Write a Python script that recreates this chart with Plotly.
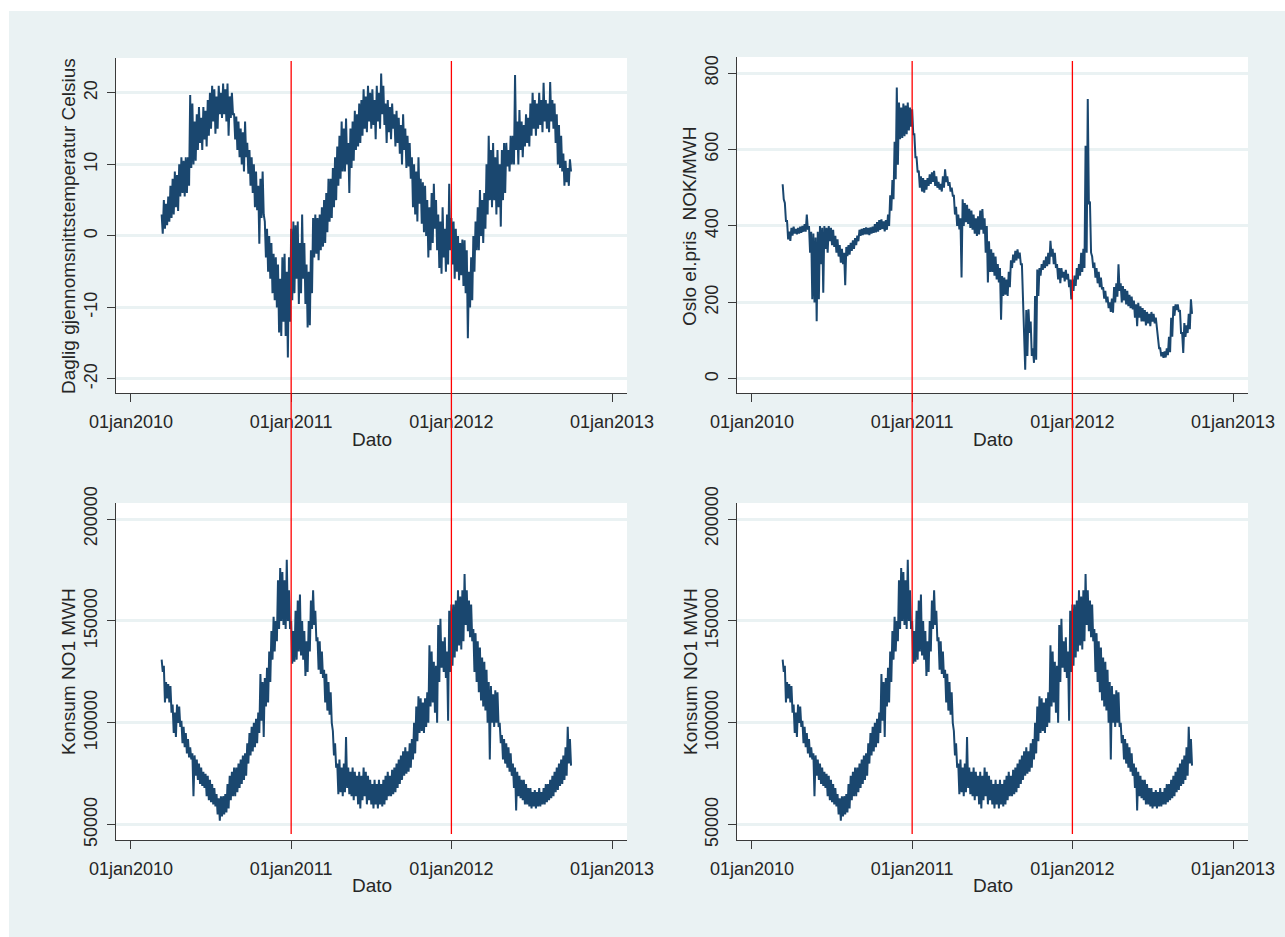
import plotly.graph_objects as go
import pandas as pd

# ---------------- data ----------------
# each 5-day window starting at START_DATE: highest and lowest value seen in it
START_DATE = "2010-03-12"
WINDOW = "5D"

temp_hoy = [
    3.0, 5.0, 4.5, 5.5, 7.0, 8.0, 9.0, 8.5, 10.0, 11.0,
    10.5, 11.0, 11.0, 19.7, 18.5, 16.0, 17.0, 18.0, 16.5, 18.0,
    17.5, 19.0, 20.0, 21.0, 20.5, 19.5, 21.0, 20.0, 21.3, 20.5,
    21.3, 19.5, 20.0, 17.0, 16.7, 16.0, 15.0, 14.5, 16.0, 13.0,
    12.0, 11.0, 10.0, 9.0, 7.0, 8.0, 9.0, 2.0, 1.0, 0.0,
    -1.0, -2.5, -3.0, -4.0, -6.0, -3.0, -2.5, -5.0, -3.0, 1.0,
    2.0, 1.5, 2.0, -1.0, 3.0, -1.0, -4.0, -5.0, -2.0, 2.5,
    3.0, 2.5, 3.0, 4.0, 5.0, 6.0, 8.0, 8.0, 9.5, 11.0,
    12.5, 14.0, 16.0, 15.0, 16.4, 13.0, 15.0, 16.0, 17.5, 17.0,
    18.5, 19.0, 20.5, 19.5, 21.0, 20.0, 20.5, 19.0, 21.0, 20.0,
    22.7, 21.0, 18.5, 19.0, 18.0, 18.5, 17.0, 17.5, 16.5, 15.5,
    17.0, 15.0, 14.0, 13.0, 11.0, 10.0, 9.0, 11.0, 8.0, 7.5,
    7.0, 5.0, 4.0, 6.0, 7.3, 5.0, 3.0, 2.0, 4.0, 1.0,
    3.0, 7.3, 2.5, 2.0, 1.0, 0.0, -1.0, -0.5, -0.6, -2.0,
    -5.0, -3.0, 0.0, 2.0, 4.0, 6.4, 5.0, 6.0, 10.0, 14.0,
    12.0, 13.0, 11.0, 12.0, 10.0, 12.0, 13.0, 13.0, 12.0, 14.0,
    14.0, 22.5, 16.0, 17.6, 16.0, 15.5, 17.0, 16.5, 18.5, 20.0,
    19.0, 18.5, 20.0, 19.0, 21.4, 19.0, 18.5, 21.5, 19.0, 18.5,
    17.0, 15.5, 14.0, 11.5, 10.5, 9.5, 10.7,
]
temp_lav = [
    0.3, 1.0, 1.5, 2.0, 2.5, 3.0, 4.0, 3.5, 5.5, 6.0,
    5.5, 6.0, 7.0, 9.5, 10.0, 10.5, 12.0, 13.0, 12.0, 13.5,
    12.5, 14.0, 15.0, 16.0, 14.3, 15.0, 17.0, 16.5, 17.0, 16.0,
    14.0, 16.5, 17.0, 13.5, 12.0, 11.0, 10.0, 9.0, 11.0, 8.7,
    7.0, 6.0, 4.0, 3.6, -1.1, 2.5, 3.0, -3.0, -5.0, -6.0,
    -8.0, -9.0, -10.0, -13.5, -14.0, -12.0, -14.0, -17.0, -12.0, -9.0,
    -8.0, -6.0, -9.5, -8.0, -6.0, -9.5, -12.8, -12.5, -8.0, -3.0,
    -2.5, -3.4, -2.0, -1.5, -1.0, 0.5, 2.0, 2.5, 4.0, 5.0,
    7.0, 8.0, 9.0, 9.0, 10.0, 6.0, 9.5, 10.5, 12.0, 12.5,
    13.0, 14.0, 15.0, 14.5, 16.0, 15.0, 15.5, 13.5, 16.0, 15.0,
    17.0, 15.5, 13.0, 14.5, 13.5, 15.0, 12.5, 13.0, 11.5, 10.0,
    12.0, 9.5, 9.7, 8.0, 4.0, 3.0, 2.0, 4.5, 1.7, 0.5,
    0.0, -3.0, -2.0, -1.0, 1.0, -2.0, -4.5, -5.3, -3.0, -5.0,
    -4.0, -2.0, -4.0, -6.0, -5.0, -6.2, -5.5, -7.0, -8.0, -14.3,
    -10.0, -9.0, -5.0, -2.0, -2.0, 0.0, -1.0, 1.0, 3.0, 5.0,
    4.0, 5.0, 3.0, 4.0, 1.3, 5.0, 6.0, 9.7, 9.0, 10.0,
    10.0, 12.0, 10.0, 12.0, 11.0, 12.5, 13.0, 12.5, 14.0, 15.0,
    14.0, 15.0, 15.5, 14.5, 16.0, 15.0, 14.5, 16.0, 15.0, 13.0,
    10.0, 9.5, 9.0, 7.0, 7.5, 7.0, 9.0,
]

pris_hoy = [
    509, 460, 413, 385, 395, 398, 392, 395, 398, 400,
    405, 430, 400, 385, 380, 370, 385, 400, 395, 400,
    395, 400, 395, 390, 374, 365, 350, 340, 330, 345,
    350, 356, 362, 368, 375, 390, 392, 394, 396, 395,
    396, 398, 405, 410, 415, 417, 412, 415, 430, 480,
    520, 620, 762, 723, 710, 720, 715, 723, 710, 705,
    640, 580, 545, 530, 525, 520, 525, 535, 540, 544,
    530, 515, 510, 530, 548, 530, 515, 500, 479, 450,
    430, 420, 470, 460, 455, 445, 440, 430, 420, 425,
    440, 444, 420, 400, 360, 339, 330, 320, 300, 290,
    269, 265, 260, 280, 310, 325, 335, 339, 330, 300,
    140, 180, 182, 150, 80, 217, 286, 290, 300, 310,
    320, 330, 361, 340, 330, 300, 290, 290, 280, 285,
    275, 260, 260, 270, 290, 300, 330, 340, 610, 732,
    461, 320, 304, 290, 280, 265, 240, 230, 215, 200,
    210, 240, 250, 300, 250, 243, 235, 230, 220, 215,
    205, 195, 199, 190, 185, 180, 175, 170, 175, 170,
    160, 120, 80, 70, 72, 80, 110, 160, 190, 195,
    195, 180, 120, 146, 140, 170, 208,
]
pris_lav = [
    470, 413, 365, 361, 375, 380, 378, 380, 382, 385,
    385, 390, 330, 208, 200, 151, 208, 300, 225, 340,
    330, 360, 350, 345, 330, 320, 304, 300, 245, 321,
    325, 335, 340, 350, 360, 374, 376, 378, 378, 376,
    380, 382, 383, 385, 390, 392, 386, 390, 400, 440,
    470, 522, 560, 627, 630, 635, 640, 650, 660, 640,
    580, 540, 500, 490, 487, 495, 505, 510, 515, 505,
    500, 495, 490, 500, 515, 505, 490, 479, 430, 400,
    391, 265, 400, 410, 405, 395, 390, 380, 374, 378,
    390, 380, 330, 252, 280, 280, 270, 260, 252, 155,
    217, 220, 217, 240, 290, 304, 310, 315, 300, 200,
    24, 60, 120, 60, 42, 50, 217, 270, 285, 290,
    295, 300, 320, 300, 290, 260, 250, 265, 255, 260,
    240, 208, 230, 243, 260, 270, 280, 290, 330, 460,
    330, 290, 265, 250, 240, 234, 210, 200, 185, 175,
    173, 200, 215, 230, 200, 205, 195, 190, 185, 182,
    160, 138, 160, 150, 150, 140, 145, 138, 150, 145,
    130, 80, 59, 55, 56, 62, 70, 110, 165, 180,
    175, 120, 68, 110, 120, 130, 170,
]

konsum_hoy_tusen = [
    131, 128, 120, 119, 118, 109, 105, 109, 108, 101,
    98, 95, 92, 88, 85, 84, 82, 80, 78, 76,
    75, 74, 72, 70, 68, 65, 63, 64, 64, 65,
    70, 74, 76, 78, 78, 80, 82, 84, 85, 90,
    95, 98, 100, 102, 105, 124, 120, 122, 127, 135,
    145, 152, 150, 170, 176, 174, 170, 180, 165, 150,
    145, 155, 160, 163, 150, 145, 140, 150, 160, 165,
    155, 142, 140, 135, 126, 124, 120, 115, 96, 90,
    80, 82, 78, 80, 93, 78, 76, 78, 76, 74,
    76, 74, 78, 76, 74, 72, 70, 72, 70, 72,
    70, 72, 74, 76, 74, 77, 78, 80, 82, 84,
    86, 88, 86, 90, 92, 100, 108, 113, 112, 110,
    112, 115, 138, 135, 130, 128, 148, 151, 140, 142,
    135, 155, 158, 158, 160, 165, 162, 165, 173, 165,
    160, 158, 146, 144, 140, 137, 132, 130, 126, 120,
    118, 114, 116, 115, 100, 94, 92, 90, 88, 85,
    80, 78, 76, 74, 72, 72, 70, 68, 68, 66,
    67, 66, 68, 66, 68, 70, 70, 72, 74, 76,
    78, 80, 82, 84, 88, 98, 92,
]
konsum_lav_tusen = [
    125, 110, 112, 110, 105, 95, 93, 100, 98, 90,
    88, 85, 83, 82, 64, 74, 72, 70, 69, 68,
    64, 62, 61, 60, 59, 55, 52, 54, 55, 56,
    58, 62, 64, 64, 66, 68, 70, 72, 74, 80,
    84, 86, 88, 90, 95, 101, 93, 108, 110, 120,
    131, 135, 140, 146, 150, 148, 146, 150, 146, 129,
    130, 131, 135, 133, 131, 123, 125, 135, 146, 148,
    140, 126, 124, 122, 110, 106, 104, 100, 84, 78,
    65, 66, 64, 66, 68, 65, 64, 62, 64, 60,
    58, 62, 64, 60, 62, 60, 58, 60, 58, 60,
    59, 60, 62, 64, 64, 65, 66, 68, 70, 72,
    74, 75, 76, 78, 82, 85, 91, 95, 96, 95,
    98, 100, 108, 110, 105, 100, 120, 127, 125, 122,
    101, 125, 128, 132, 135, 138, 136, 140, 148, 145,
    142, 140, 125, 120, 115, 111, 108, 106, 100, 82,
    100, 98, 100, 98, 90, 82, 80, 78, 76, 74,
    68, 57, 64, 63, 62, 60, 60, 59, 58, 59,
    58, 59, 59, 60, 60, 61, 62, 63, 64, 66,
    67, 69, 70, 72, 74, 80, 79,
]
konsum_hoy = [v * 1000 for v in konsum_hoy_tusen]
konsum_lav = [v * 1000 for v in konsum_lav_tusen]

x_tick_dates = ["2010-01-01", "2011-01-01", "2012-01-01", "2013-01-01"]
x_tick_text = ["01jan2010", "01jan2011", "01jan2012", "01jan2013"]
x_range = ["2009-11-28", "2013-02-04"]
marker_dates = ["2011-01-01", "2012-01-01"]

temp_ticks = [-20, -10, 0, 10, 20]
pris_ticks = [0, 200, 400, 600, 800]
konsum_ticks = [50000, 100000, 150000, 200000]

# window start dates; the low of each window is placed half a window later
dato_hoy = pd.date_range(START_DATE, periods=len(temp_hoy), freq=WINDOW)
dato_lav = dato_hoy + pd.Timedelta(hours=60)


def zigzag(hoy, lav):
    xs, ys = [], []
    for dh, dl, h, l in zip(dato_hoy, dato_lav, hoy, lav):
        xs += [dh, dl]
        ys += [h, l]
    return xs, ys


# ---------------- styling ----------------
W, H = 1285, 937
BG = "#eaf2f3"
NAVY = "#1a476f"
AXC = "#3a3a3a"
TXT = "#262626"
FONT = "Liberation Sans, Arial, sans-serif"


def fx(p):
    return p / W


def fy(p):
    return 1 - p / H


fig = go.Figure()

panels = [
    ("x", "y", temp_hoy, temp_lav, (116, 627), (58, 393), [-21.96, 24.87], temp_ticks),
    ("x2", "y2", pris_hoy, pris_lav, (737, 1248), (57, 393), [-37, 842], pris_ticks),
    ("x3", "y3", konsum_hoy, konsum_lav, (116, 627), (503, 840), [42500, 207860], konsum_ticks),
    ("x4", "y4", konsum_hoy, konsum_lav, (737, 1248), (503, 840), [42500, 207860], konsum_ticks),
]

layout = {}
for xa, ya, hoy, lav, (xl, xr), (yt, yb), yr, yt_vals in panels:
    xs, ys = zigzag(hoy, lav)
    fig.add_trace(go.Scatter(x=xs, y=ys, mode="lines", xaxis=xa, yaxis=ya,
                             line=dict(color=NAVY, width=2), showlegend=False,
                             hoverinfo="skip"))
    xkey = "xaxis" + xa[1:]
    ykey = "yaxis" + ya[1:]
    layout[xkey] = dict(
        type="date", range=x_range, domain=[fx(xl), fx(xr)], anchor=ya,
        automargin=False,
        showline=True, linecolor=AXC, linewidth=1.4, mirror=False,
        ticks="outside", ticklen=8, tickwidth=1.3, tickcolor=AXC,
        tickvals=x_tick_dates, ticktext=x_tick_text,
        showgrid=False, zeroline=False,
        tickfont=dict(family=FONT, size=18, color=TXT),
        ticklabelstandoff=4,
    )
    layout[ykey] = dict(
        range=yr, domain=[fy(yb), fy(yt)], anchor=xa,
        automargin=False,
        showline=True, linecolor=AXC, linewidth=1.4,
        ticks="outside", ticklen=8, tickwidth=1.3, tickcolor=AXC,
        tickvals=yt_vals, ticktext=[str(v) for v in yt_vals], tickangle=-90,
        showgrid=True, gridcolor=BG, gridwidth=2.5, zeroline=False,
        tickfont=dict(family=FONT, size=18, color=TXT),
        ticklabelstandoff=3,
    )

fig.update_layout(**layout)

shapes = [
    dict(type="rect", xref="paper", yref="paper", x0=0, x1=1, y0=fy(11), y1=1,
         fillcolor="white", line=dict(width=0), layer="below"),
    dict(type="rect", xref="paper", yref="paper", x0=0, x1=fx(9), y0=0, y1=1,
         fillcolor="white", line=dict(width=0), layer="below"),
]
for xr_ in ["x", "x2"]:
    for d in marker_dates:
        shapes.append(dict(type="line", xref=xr_, yref="paper", x0=d, x1=d,
                           y0=fy(834), y1=fy(61),
                           line=dict(color="#ff0000", width=1.3), layer="above"))

titles = [
    ("Daglig gjennomsnittstemperatur Celsius", 68, 226, -90),
    ("Oslo el.pris\u00a0 NOK/MWH", 689, 226, -90),
    ("Konsum NO1 MWH", 68, 672, -90),
    ("Konsum NO1 MWH", 690, 672, -90),
    ("Dato", 371.5, 440, 0),
    ("Dato", 992.5, 440, 0),
    ("Dato", 371.5, 885, 0),
    ("Dato", 992.5, 885, 0),
]
annotations = []
for text, px_, py_, ang in titles:
    annotations.append(dict(text=text, x=fx(px_), y=fy(py_), xref="paper", yref="paper",
                            showarrow=False, textangle=ang, xanchor="center", yanchor="middle",
                            font=dict(family=FONT, size=19, color=TXT)))

fig.update_layout(
    width=W, height=H,
    margin=dict(l=0, r=0, t=0, b=0, pad=0, autoexpand=False),
    paper_bgcolor=BG, plot_bgcolor="white",
    shapes=shapes, annotations=annotations,
    showlegend=False,
    font=dict(family=FONT, color=TXT),
)

fig.write_html("out.html")
